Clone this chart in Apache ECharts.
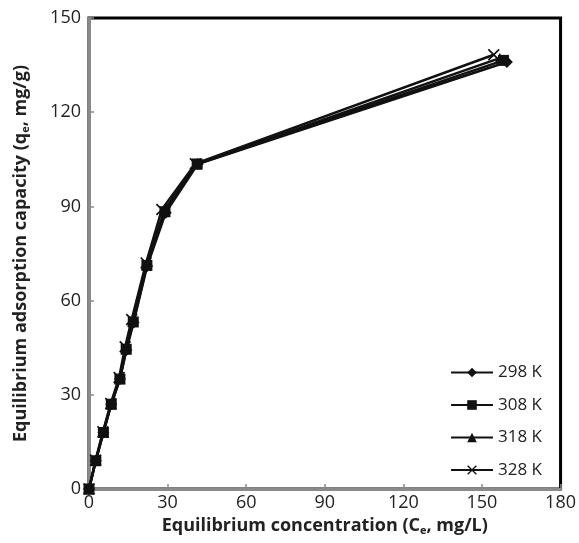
<!DOCTYPE html>
<html><head><meta charset="utf-8">
<script src="https://cdn.jsdelivr.net/npm/echarts@6/dist/echarts.min.js"></script>
<style>html,body{margin:0;padding:0;background:#fff}#c{width:579px;height:543px}</style>
</head><body><div id="c"></div>
<script>
const seriesNames = ['298 K', '308 K', '318 K', '328 K'];
const ce298 = [0, 2.6, 5.5, 8.5, 11.8, 14.3, 17.0, 22.2, 29.3, 41.5, 159.5];
const qe298 = [0, 9.0, 18.0, 27.0, 35.0, 44.3, 53.0, 71.0, 88.0, 103.5, 136.0];
const ce308 = [0, 2.6, 5.5, 8.5, 11.8, 14.2, 16.9, 22.1, 29.0, 41.3, 158.2];
const qe308 = [0, 9.0, 18.0, 27.0, 35.0, 44.5, 53.2, 71.2, 88.3, 103.5, 136.5];
const ce318 = [0, 2.6, 5.4, 8.4, 11.7, 14.1, 16.7, 22.0, 28.7, 41.0, 156.8];
const qe318 = [0, 9.1, 18.1, 27.1, 35.2, 44.8, 53.6, 71.5, 88.6, 103.5, 137.2];
const ce328 = [0, 2.5, 5.3, 8.3, 11.5, 13.8, 16.3, 21.8, 27.8, 40.6, 154.5];
const qe328 = [0, 9.2, 18.2, 27.2, 35.5, 45.3, 54.0, 72.0, 89.0, 103.6, 138.3];
const xTicks = [0, 30, 60, 90, 120, 150, 180];
const yTicks = [0, 30, 60, 90, 120, 150];

const pairs = (xs, ys) => xs.map((x, i) => [x, ys[i]]);
const crossPath = 'path://M0,1 L1,0 L5,4 L9,0 L10,1 L6,5 L10,9 L9,10 L5,6 L1,10 L0,9 L4,5 Z';
const symbols = ['diamond', 'rect', 'triangle', crossPath];
const sizes = [12, 11, 11, 12];
const datas = [pairs(ce298, qe298), pairs(ce308, qe308), pairs(ce318, qe318), pairs(ce328, qe328)];
const font = '"Open Sans", "Liberation Sans", sans-serif';
const rich = {
  b: { fontFamily: font, fontSize: 18, fontWeight: 'bold', color: '#222' },
  s: { fontFamily: font, fontSize: 11, fontWeight: 'bold', color: '#222', verticalAlign: 'bottom', padding: [9, 0, 0, 0] }
};

const chart = echarts.init(document.getElementById('c'));
chart.setOption({
  animation: false,
  backgroundColor: '#fff',
  grid: { left: 89, right: 13, top: 18, bottom: 54, show: true, borderColor: '#000', borderWidth: 3, backgroundColor: 'transparent' },
  legend: {
    orient: 'vertical', right: 32, top: 359, itemWidth: 42, itemHeight: 12, itemGap: 15.5,
    textStyle: { fontFamily: font, fontSize: 17, color: '#222' },
    data: seriesNames
  },
  xAxis: {
    type: 'value', min: xTicks[0], max: xTicks[xTicks.length - 1], interval: 30,
    axisLine: { show: true, onZero: false, lineStyle: { color: '#8a8a8a', width: 3 } },
    axisTick: { show: true, inside: true, length: 5, lineStyle: { color: '#8a8a8a', width: 1.5 } },
    axisLabel: { fontFamily: font, fontSize: 18, color: '#222', margin: 5 },
    splitLine: { show: false },
    name: '{b|Equilibrium concentration (C}{s|e}{b|, mg/L)}',
    nameLocation: 'middle', nameGap: 27,
    nameTextStyle: { rich: rich }
  },
  yAxis: {
    type: 'value', min: yTicks[0], max: yTicks[yTicks.length - 1], interval: 30,
    axisLine: { show: true, onZero: false, lineStyle: { color: '#8a8a8a', width: 3 } },
    axisTick: { show: true, inside: true, length: 5, lineStyle: { color: '#8a8a8a', width: 1.5 } },
    axisLabel: { fontFamily: font, fontSize: 18, color: '#222', margin: 8 },
    splitLine: { show: false },
    name: '{b|Equilibrium adsorption capacity (q}{s|e}{b|, mg/g)}',
    nameLocation: 'middle', nameGap: 58, nameRotate: 90,
    nameTextStyle: { rich: rich }
  },
  series: seriesNames.map((n, i) => ({
    name: n, type: 'line', data: datas[i],
    symbol: symbols[i], symbolSize: sizes[i], showAllSymbol: true,
    lineStyle: { color: '#111', width: 2.5 },
    itemStyle: { color: '#111', borderColor: '#111', borderWidth: 0 },
    z: 3 + i
  }))
});
</script></body></html>
